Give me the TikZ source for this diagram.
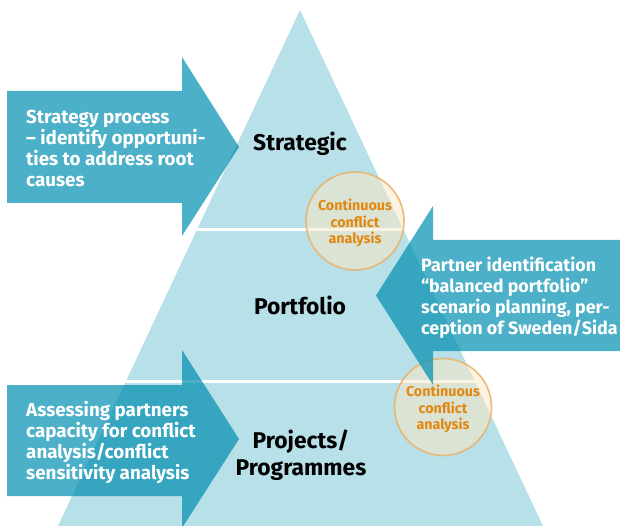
\documentclass[tikz,border=0pt]{standalone}
\usepackage{fontspec}
\setmainfont{Fira Sans}
\definecolor{pyr}{HTML}{B8E0E8}
\definecolor{arr}{HTML}{008EB0}
\definecolor{cfill}{HTML}{FDE7C1}
\definecolor{cline}{HTML}{E8B46C}
\definecolor{ctext}{HTML}{E3870E}
\tikzset{
  arrowshape/.style={fill=arr, fill opacity=0.7, draw=none},
  circ/.style={circle, minimum size=#1, fill=cfill, fill opacity=0.5, draw=cline, draw opacity=0.9, line width=1.6pt, inner sep=0pt},
  ctxt/.style={text=ctext, font=\bfseries\fontsize{14.3}{16.5}\selectfont, align=center, text opacity=1},
  wtxt/.style={text=white, font=\bfseries\fontsize{18.8}{21}\selectfont, align=left, anchor=west, inner sep=0pt},
  head/.style={text=black, font=\bfseries\fontsize{22.8}{27}\selectfont, align=center, inner sep=0pt},
  sep/.style={draw=white, line width=3pt}
}
\begin{document}
\begin{tikzpicture}[x=1pt,y=-1pt]
\useasboundingbox (0,0) rectangle (620,526);
\clip (0,0) rectangle (620,526);
% pyramid
\coordinate (apex) at (300,10);
\coordinate (bl) at (58,526);
\coordinate (br) at (543,526);
\fill[pyr] (apex) -- (bl) -- (br) -- cycle;
\begin{scope}
  \clip (apex) -- (bl) -- (br) -- cycle;
  \coordinate (l1a) at (0,229.5); \coordinate (l1b) at (620,229.5);
  \coordinate (l2a) at (0,381); \coordinate (l2b) at (620,381);
  \draw[sep] (l1a) -- (l1b);
  \draw[sep] (l2a) -- (l2b);
\end{scope}
% circles
\node[circ=98pt] (c1) at (355,221) {};
\node[circ=97pt] (c2) at (443,407) {};
\node[ctxt] (c1t) at (355,223) {Continuous\\conflict\\analysis};
\node[ctxt] (c2t) at (443,409) {Continuous\\conflict\\analysis};
% arrows
\fill[arrowshape] (7,91) -- (182,91) -- (182,57) -- (239,147) -- (182,236) -- (182,203) -- (7,203) -- cycle;
\fill[arrowshape] (7,385) -- (182,385) -- (182,350) -- (239,439) -- (182,528) -- (182,496) -- (7,496) -- cycle;
\fill[arrowshape] (620,240) -- (433,240) -- (433,206) -- (376,295.5) -- (433,385) -- (433,351) -- (620,351) -- cycle;
% texts
\node[wtxt] (t1) at (26,148) {Strategy process\\– identify opportuni-\\ties to address root\\causes};
\node[wtxt] (t2) at (26,442) {Assessing partners\\capacity for conflict\\analysis/conflict\\sensitivity analysis};
\node[wtxt, font=\bfseries\fontsize{17.9}{21}\selectfont] (t3) at (421,298) {Partner identification\\“balanced portfolio”\\scenario planning, per-\\ception of Sweden/Sida};
\node[head] (h1) at (300,144) {Strategic};
\node[head] (h2) at (300,305) {Portfolio};
\node[head] (h3) at (301,455) {Projects/\\Programmes};
\end{tikzpicture}
\end{document}
